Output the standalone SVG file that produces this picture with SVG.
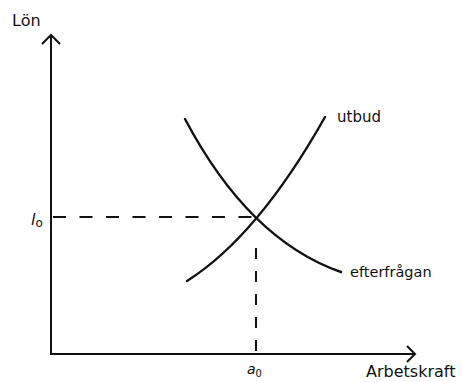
<svg xmlns="http://www.w3.org/2000/svg" width="463" height="382" viewBox="0 0 463 382">
<style>
.ax{stroke:#111;stroke-width:2;fill:none}
.cv{stroke:#111;stroke-width:2.4;fill:none;stroke-linecap:round}
.dh{stroke:#111;stroke-width:2;fill:none;stroke-dasharray:13 13.5}
.dv{stroke:#111;stroke-width:2;fill:none;stroke-dasharray:11 12}
text{font-family:"DejaVu Sans","Liberation Sans",sans-serif;font-size:15px;fill:#111}
.it{font-style:italic}
</style>
<rect width="463" height="382" fill="#fff"/>
<g id="axes">
<path class="ax" d="M51,36 V354 H414"/>
<path class="ax" d="M42,44 L51,35 L60,44"/>
<path class="ax" d="M407,346 L415,354 L407,362"/>
</g>
<g id="connectors">
<path class="dh" d="M53,217 H256"/>
<path class="dv" d="M256,248 V354"/>
<path id="demand" class="cv" d="M185,119 Q249,240 341,272"/>
<path id="supply" class="cv" d="M187,281 Q258,236 325,117"/>
</g>
<g id="labels">
<text x="12" y="26" style="font-size:16px">Lön</text>
<text x="337" y="122">utbud</text>
<text x="350" y="277" style="font-size:14.5px">efterfrågan</text>
<text x="366" y="377" style="font-size:16px">Arbetskraft</text>
<text x="31" y="225" class="it" style="font-size:16px">l<tspan dy="2" font-size="12" style="font-style:normal">o</tspan></text>
<text x="247" y="374" class="it" style="font-size:14px">a<tspan dy="3" font-size="10" style="font-style:normal">0</tspan></text>
</g>
</svg>
